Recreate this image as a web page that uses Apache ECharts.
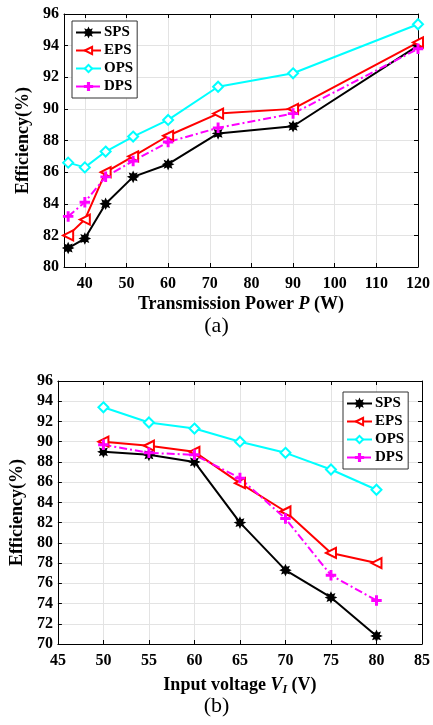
<!DOCTYPE html>
<html><head><meta charset="utf-8">
<script src="https://cdn.jsdelivr.net/npm/echarts@6/dist/echarts.min.js"></script>
<style>html,body{margin:0;padding:0;background:#fff}#c{width:433px;height:725px}</style>
</head><body><div id="c"></div>
<script>
// (a) Efficiency vs transmission power
const powerA = [36, 40, 45, 51.6, 60, 72, 90, 120];
const spsA = [81.2, 81.8, 84.0, 85.7, 86.5, 88.45, 88.9, 94.0];
const epsA = [82.0, 83.0, 86.0, 87.0, 88.3, 89.7, 90.0, 94.2];
const opsA = [86.6, 86.3, 87.3, 88.25, 89.3, 91.4, 92.25, 95.35];
const dpsA = [83.2, 84.1, 85.7, 86.7, 87.9, 88.8, 89.7, 93.8];
// (b) Efficiency vs input voltage
const voltB = [50, 55, 60, 65, 70, 75, 80];
const spsB = [89.0, 88.7, 88.0, 82.0, 77.3, 74.6, 70.8];
const epsB = [90.0, 89.6, 89.0, 85.9, 83.1, 79.0, 78.0];
const opsB = [93.4, 91.9, 91.3, 90.0, 88.9, 87.25, 85.25];
const dpsB = [89.7, 88.9, 88.7, 86.4, 82.4, 76.8, 74.3];
const seriesNames = ['SPS', 'EPS', 'OPS', 'DPS'];

const FONT = '"Liberation Serif","Times New Roman",serif';
const STAR = 'path://M5,0L6.1,2.4L8.5,1.5L7.6,3.9L10,5L7.6,6.1L8.5,8.5L6.1,7.6L5,10L3.9,7.6L1.5,8.5L2.4,6.1L0,5L2.4,3.9L1.5,1.5L3.9,2.4Z';
const PLUS = 'path://M4.2,0H5.8V4.2H10V5.8H5.8V10H4.2V5.8H0V4.2H4.2Z';

const styles = {
  SPS: {color: '#000000', symbol: STAR, symbolSize: 9, type: 'solid', rotate: 0},
  EPS: {color: '#ff0000', symbol: 'emptyTriangle', symbolSize: 10, type: 'solid', rotate: 90},
  OPS: {color: '#00ffff', symbol: 'emptyDiamond', symbolSize: 10, type: 'solid', rotate: 0},
  DPS: {color: '#ff00ff', symbol: PLUS, symbolSize: 9, type: [8, 3, 2, 3], rotate: 0}
};

function mk(name, xs, ys, idx) {
  const s = styles[name];
  return {
    name, type: 'line', xAxisIndex: idx, yAxisIndex: idx,
    data: xs.map((x, i) => [x, ys[i]]),
    symbol: s.symbol, symbolSize: s.symbolSize, symbolRotate: s.rotate,
    showAllSymbol: true,
    lineStyle: {color: s.color, width: 2, type: s.type},
    itemStyle: {color: s.color, borderColor: s.color, borderWidth: 1.5},
    emphasis: {disabled: true},
    animation: false, z: 3
  };
}

const tickLbl = {fontFamily: FONT, fontWeight: 'bold', fontSize: 16, color: '#000'};
const axisLine = {show: true, lineStyle: {color: '#000', width: 1}};
const gridLine = {show: true, lineStyle: {color: '#e3e3e3', width: 1}};
const inTick = {show: true, inside: true, length: 4, lineStyle: {color: '#000'}};

function mainX(idx, min, max, extra, name) {
  return Object.assign({
    type: 'value', gridIndex: idx, min, max, position: 'bottom',
    axisLine, axisTick: inTick, splitLine: gridLine,
    axisLabel: Object.assign({margin: 9}, tickLbl),
    name, nameLocation: 'middle',
    nameTextStyle: {fontFamily: FONT, fontWeight: 'bold', fontSize: 18, color: '#000',
      rich: {
        i: {fontFamily: FONT, fontWeight: 'bold', fontStyle: 'italic', fontSize: 18, color: '#000'},
        s: {fontFamily: FONT, fontWeight: 'bold', fontStyle: 'italic', fontSize: 12, color: '#000', verticalAlign: 'bottom', padding: [10, 0, 0, 0]}
      }}
  }, extra);
}
function topX(idx, min, max, extra) {
  return Object.assign({
    type: 'value', gridIndex: idx, min, max, position: 'top',
    axisLine, axisTick: inTick, splitLine: {show: false}, axisLabel: {show: false}
  }, extra);
}
function mainY(idx, min, max, interval, gap) {
  return {
    type: 'value', gridIndex: idx, min, max, interval, position: 'left',
    axisLine, axisTick: inTick, splitLine: gridLine,
    axisLabel: Object.assign({margin: 5}, tickLbl),
    name: 'Efficiency(%)', nameLocation: 'middle', nameGap: gap,
    nameTextStyle: {fontFamily: FONT, fontWeight: 'bold', fontSize: 18, color: '#000'}
  };
}
function rightY(idx, min, max, interval) {
  return {
    type: 'value', gridIndex: idx, min, max, interval, position: 'right',
    axisLine, axisTick: inTick, splitLine: {show: false}, axisLabel: {show: false}
  };
}
function legend(left, top) {
  return {
    data: seriesNames, left, top, orient: 'vertical',
    itemWidth: 25, itemHeight: 9, itemGap: 3,
    padding: [4, 4, 4, 3],
    borderColor: '#333', borderWidth: 1, backgroundColor: '#fff',
    textStyle: {fontFamily: FONT, fontWeight: 'bold', fontSize: 15, color: '#000', padding: [0, 0, 0, -2]},
    selectedMode: false
  };
}

const chart = echarts.init(document.getElementById('c'), null, {renderer: 'canvas'});
chart.setOption({
  backgroundColor: '#fff',
  animation: false,
  grid: [
    {left: 64, right: 14, top: 14, height: 253},
    {left: 53, right: 10, top: 381, height: 263}
  ],
  xAxis: [
    mainX(0, 35, 120, {minInterval: 10, maxInterval: 10, splitNumber: 9,
      axisLabel: Object.assign({margin: 9, showMinLabel: false}, tickLbl), nameGap: 28},
      'Transmission Power {i|P} (W)'),
    mainX(1, 45, 85, {interval: 5, nameGap: 30}, 'Input voltage {i|V}{s|I} (V)'),
    topX(0, 35, 120, {minInterval: 10, maxInterval: 10, splitNumber: 9}),
    topX(1, 45, 85, {interval: 5})
  ],
  yAxis: [
    mainY(0, 80, 96, 2, 27),
    mainY(1, 70, 96, 2, 27),
    rightY(0, 80, 96, 2),
    rightY(1, 70, 96, 2)
  ],
  legend: [legend(72, 21), legend(343, 392)],
  series: [
    mk('SPS', powerA, spsA, 0), mk('EPS', powerA, epsA, 0),
    mk('OPS', powerA, opsA, 0), mk('DPS', powerA, dpsA, 0),
    mk('SPS', voltB, spsB, 1), mk('EPS', voltB, epsB, 1),
    mk('OPS', voltB, opsB, 1), mk('DPS', voltB, dpsB, 1)
  ],
  graphic: [
    {type: 'text', left: 'center', top: 315, style: {text: '(a)', font: '22px ' + FONT, fill: '#000'}},
    {type: 'text', left: 'center', top: 695, style: {text: '(b)', font: '22px ' + FONT, fill: '#000'}}
  ]
});
</script></body></html>
